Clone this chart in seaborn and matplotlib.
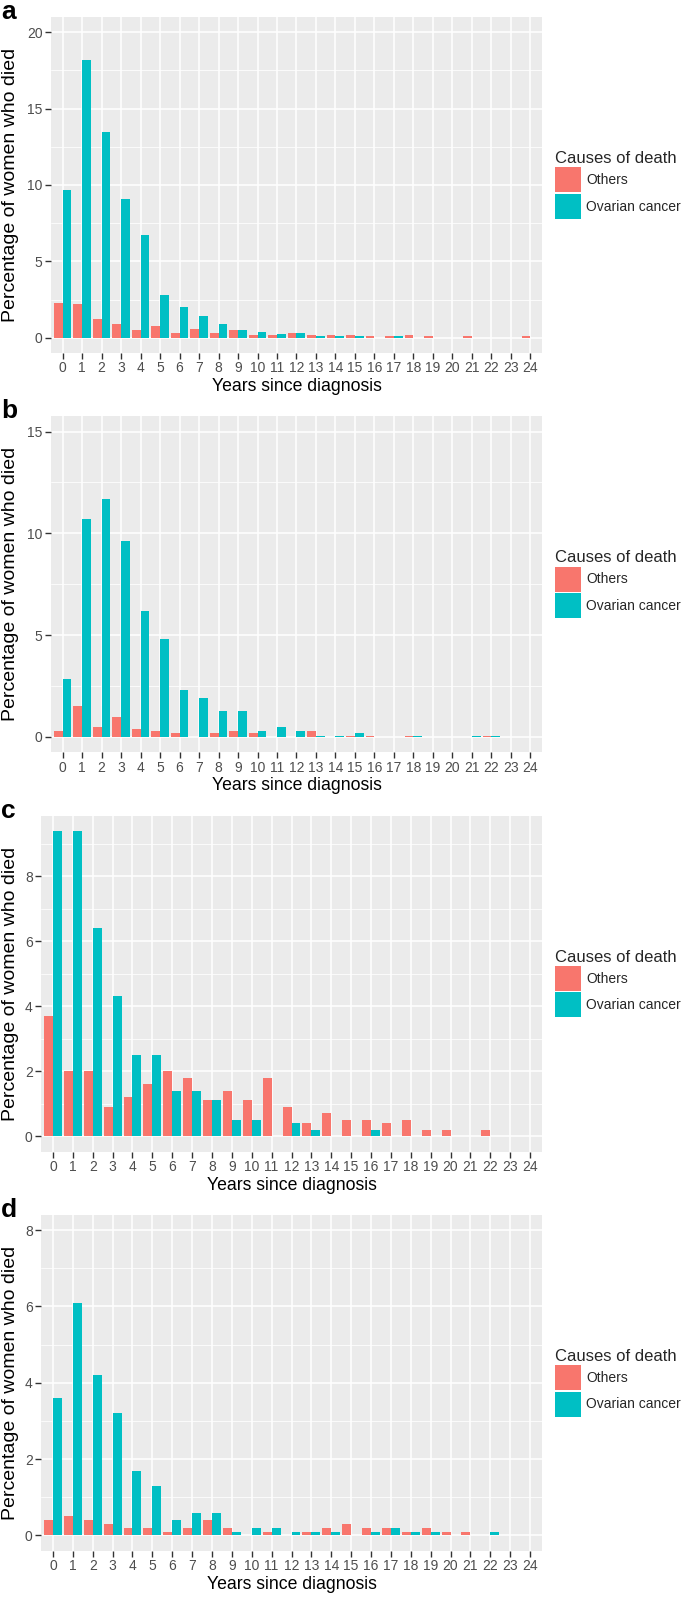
import numpy as np
import pandas as pd
import matplotlib
matplotlib.use("Agg")
import matplotlib.pyplot as plt
from matplotlib.ticker import MultipleLocator
import seaborn as sns

# data
years = list(range(25))
causes = ["Others", "Ovarian cancer"]
colors = ["#F8766D", "#00BFC4"]

a_others = [2.3, 2.2, 1.2, 0.9, 0.5, 0.8, 0.3, 0.6, 0.3, 0.5, 0.2, 0.2, 0.3, 0.2, 0.2, 0.2, 0.13, 0.13, 0.2, 0.13, 0, 0.13, 0, 0, 0.13]
a_ovarian = [9.7, 18.2, 13.5, 9.1, 6.7, 2.8, 2.0, 1.4, 0.9, 0.5, 0.4, 0.25, 0.3, 0.13, 0.13, 0.13, 0, 0.13, 0, 0, 0, 0, 0, 0, 0]

b_others = [0.3, 1.5, 0.5, 1.0, 0.4, 0.3, 0.2, 0, 0.2, 0.3, 0.2, 0, 0, 0.3, 0, 0.07, 0.07, 0, 0.07, 0, 0, 0, 0.07, 0, 0]
b_ovarian = [2.85, 10.7, 11.7, 9.6, 6.2, 4.8, 2.3, 1.9, 1.3, 1.3, 0.3, 0.5, 0.3, 0.07, 0.07, 0.2, 0, 0, 0.07, 0, 0, 0.07, 0.07, 0, 0]

c_others = [3.7, 2.0, 2.0, 0.9, 1.2, 1.6, 2.0, 1.8, 1.1, 1.4, 1.1, 1.8, 0.9, 0.4, 0.7, 0.5, 0.5, 0.4, 0.5, 0.2, 0.2, 0, 0.2, 0, 0]
c_ovarian = [9.4, 9.4, 6.4, 4.3, 2.5, 2.5, 1.4, 1.4, 1.1, 0.5, 0.5, 0, 0.4, 0.2, 0, 0, 0.2, 0, 0, 0, 0, 0, 0, 0, 0]

d_others = [0.4, 0.5, 0.4, 0.3, 0.2, 0.2, 0.1, 0.2, 0.4, 0.2, 0, 0.1, 0, 0.1, 0.2, 0.3, 0.2, 0.2, 0.1, 0.2, 0.1, 0.1, 0, 0, 0]
d_ovarian = [3.6, 6.1, 4.2, 3.2, 1.7, 1.3, 0.4, 0.6, 0.6, 0.1, 0.2, 0.2, 0.1, 0.1, 0.1, 0, 0.1, 0.2, 0.1, 0.1, 0, 0, 0.1, 0, 0]

letters = ["a", "b", "c", "d"]
others_list = [a_others, b_others, c_others, d_others]
ovarian_list = [a_ovarian, b_ovarian, c_ovarian, d_ovarian]
ylims = [(-1, 21), (-0.75, 15.75), (-0.47, 9.87), (-0.4, 8.4)]
ysteps = [5, 5, 2, 2]

sns.set_theme(style="darkgrid")
plt.rcParams['font.family'] = ['Liberation Sans', 'DejaVu Sans']

W, H = 685, 1597
fig = plt.figure(figsize=(W / 100, H / 100), dpi=100)
fig.patch.set_facecolor("white")

for i in range(4):
    left = 51 if i < 2 else 41
    right = 542
    top = i * 399.25 + 17
    ph = 336
    ax = fig.add_axes([left / W, 1 - (top + ph) / H, (right - left) / W, ph / H])

    df = pd.DataFrame({
        "year": years * 2,
        "pct": others_list[i] + ovarian_list[i],
        "cause": [causes[0]] * len(years) + [causes[1]] * len(years),
    })
    sns.barplot(data=df, x="year", y="pct", hue="cause", hue_order=causes,
                palette=colors, saturation=1, width=0.9, gap=0,
                linewidth=0, errorbar=None, ax=ax)

    ax.set_facecolor("#EBEBEB")
    ax.set_xlim(-0.6, 24.6)
    ax.set_ylim(*ylims[i])
    ax.yaxis.set_major_locator(MultipleLocator(ysteps[i]))
    ax.yaxis.set_minor_locator(MultipleLocator(ysteps[i] / 2))
    ax.grid(which="major", color="white", lw=1.1)
    ax.grid(which="minor", axis="y", color="white", lw=0.55)
    ax.set_axisbelow(True)
    for s in ax.spines.values():
        s.set_visible(False)
    ax.tick_params(which="major", bottom=True, left=True, length=4, width=1,
                   color="#333333", labelcolor="#4D4D4D", labelsize=10, pad=2)
    ax.tick_params(which="minor", length=0)

    ax.set_xlabel("Years since diagnosis", fontsize=12.7, color="black", labelpad=2)
    ax.set_ylabel("")
    fig.text(2 / W, 1 - (top + ph / 2) / H, "Percentage of women who died",
             fontsize=14, color="black", rotation=90, ha="left", va="center")

    handles, labels = ax.get_legend_handles_labels()
    ax.legend(handles, labels, title="Causes of death", loc="center left",
              bbox_to_anchor=(555 / W, 1 - (top + ph / 2) / H),
              bbox_transform=fig.transFigure, frameon=False,
              fontsize=10, title_fontsize=12, alignment="left",
              borderpad=0, borderaxespad=0, handlelength=1.9, handleheight=2.4,
              handletextpad=0.35, labelspacing=0.1)

    fig.text(1 / W, 1 - (i * 399.25 + 0) / H, letters[i], fontsize=19,
             fontweight="bold", color="black", ha="left", va="top")

fig.savefig("out.png", dpi=100)
